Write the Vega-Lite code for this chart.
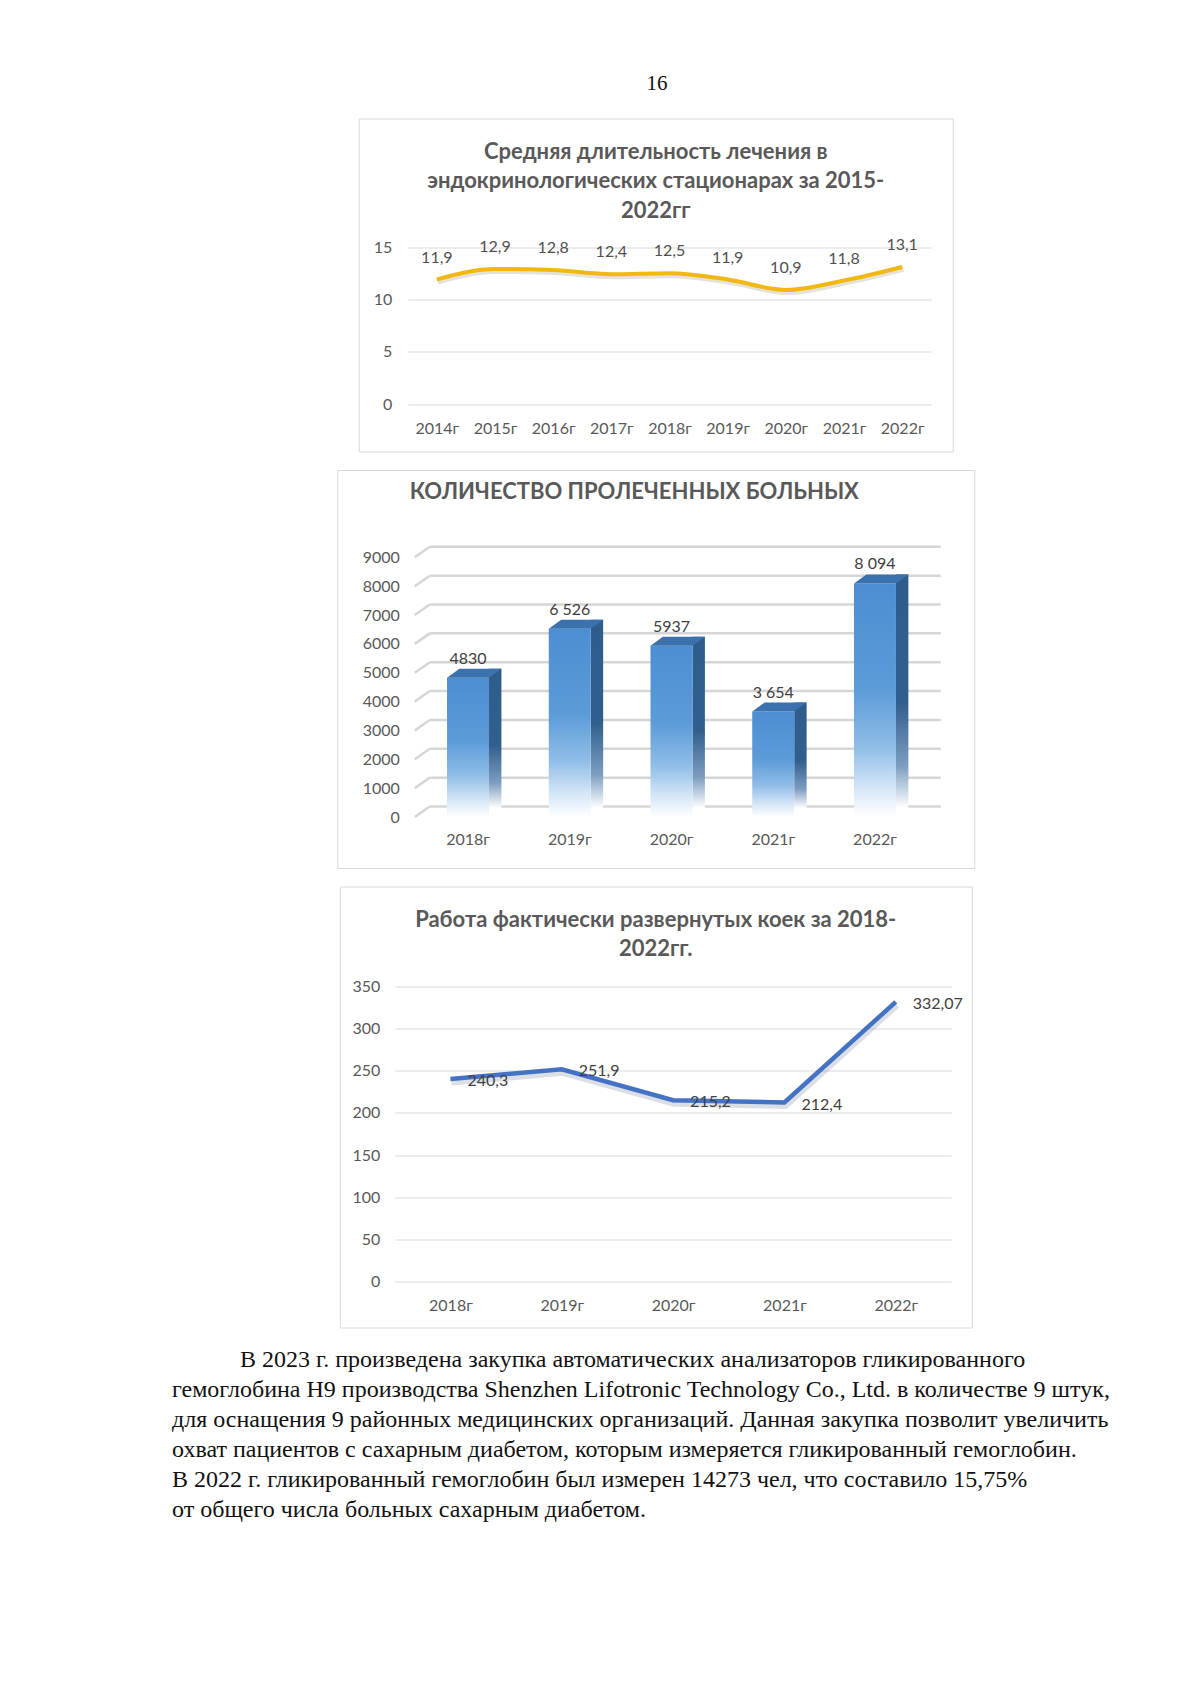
{
  "$schema": "https://vega.github.io/schema/vega-lite/v6.json",
  "background": "white",
  "padding": {"left": 170, "top": 64, "right": 0, "bottom": 0},
  "spacing": 16.5,
  "center": true,
  "config": {
    "view": {"stroke": null},
    "font": "Lato",
    "axis": {"domain": false, "ticks": false, "labelFont": "Lato", "labelColor": "#595959", "labelFontSize": 16}
  },
  "vconcat": [
    {
      "width": 20, "height": 37,
      "data": {"values": [{"page": "16"}]},
      "mark": {"type": "text", "font": "Liberation Serif", "fontSize": 21, "baseline": "middle", "align": "center", "dx": 2.5, "dy": 1, "color": "#111111"},
      "encoding": {"text": {"field": "page"}}
    },
    {
      "width": 594, "height": 333,
      "view": {"stroke": "#D9D9D9"},
      "title": {"text": ["Средняя длительность лечения в", "эндокринологических стационарах за 2015-", "2022гг"], "anchor": "middle", "frame": "group", "offset": -104, "font": "Lato", "fontSize": 22, "fontWeight": "bold", "color": "#595959", "lineHeight": 29.5},
      "data": {"values": [
        {"year": "2014г", "v": 11.9, "label": "11,9"},
        {"year": "2015г", "v": 12.9, "label": "12,9"},
        {"year": "2016г", "v": 12.8, "label": "12,8"},
        {"year": "2017г", "v": 12.4, "label": "12,4"},
        {"year": "2018г", "v": 12.5, "label": "12,5"},
        {"year": "2019г", "v": 11.9, "label": "11,9"},
        {"year": "2020г", "v": 10.9, "label": "10,9"},
        {"year": "2021г", "v": 11.8, "label": "11,8"},
        {"year": "2022г", "v": 13.1, "label": "13,1"}
      ]},
      "encoding": {
        "x": {"field": "year", "type": "ordinal", "sort": null, "scale": {"type": "point", "range": [49, 572.5], "padding": 0.5}, "axis": {"orient": "bottom", "offset": -40, "labelPadding": 17, "labelBaseline": "middle", "labelAngle": 0, "title": null, "grid": false}},
        "y": {"field": "v", "type": "quantitative", "scale": {"domain": [0, 15], "range": [285.8, 128.5], "nice": false, "zero": false}, "axis": {"values": [0, 5, 10, 15], "offset": -49, "labelPadding": 16, "grid": true, "gridColor": "#D9D9D9", "title": null}}
      },
      "layer": [
        {"mark": {"type": "line", "interpolate": "monotone", "color": "#8a7a50", "opacity": 0.22, "strokeWidth": 5, "yOffset": 2.5, "xOffset": 1}},
        {"mark": {"type": "line", "interpolate": "monotone", "color": "#F2B811", "strokeWidth": 4}},
        {"mark": {"type": "text", "dy": -22, "fontSize": 16, "font": "Lato", "color": "#505050"}, "encoding": {"text": {"field": "label"}}}
      ]
    },
    {
      "width": 637, "height": 398,
      "view": {"stroke": "#D9D9D9"},
      "title": {"text": "КОЛИЧЕСТВО ПРОЛЕЧЕННЫХ БОЛЬНЫХ", "anchor": "middle", "frame": "group", "offset": -33.5, "dx": -21.5, "font": "Lato", "fontSize": 22, "fontWeight": "bold", "color": "#595959"},
      "resolve": {"scale": {"x": "independent"}},
      "layer": [
        {
          "data": {"values": [{"v": 0}, {"v": 1000}, {"v": 2000}, {"v": 3000}, {"v": 4000}, {"v": 5000}, {"v": 6000}, {"v": 7000}, {"v": 8000}, {"v": 9000}]},
          "encoding": {
            "y": {"field": "v", "type": "quantitative", "scale": {"domain": [0, 9000], "range": [347, 87.3], "nice": false, "zero": false}, "axis": {"values": [0, 1000, 2000, 3000, 4000, 5000, 6000, 7000, 8000, 9000], "format": "d", "offset": -77, "labelPadding": 15, "grid": false, "title": null}}
          },
          "layer": [
            {
              "mark": {"type": "rule", "color": "#D6D6D6", "strokeWidth": 2.5, "yOffset": -10.5},
              "encoding": {
                "x": {"datum": 0, "type": "quantitative", "scale": {"domain": [0, 1], "range": [92.5, 603.5]}, "axis": null},
                "x2": {"datum": 1}
              }
            },
            {
              "mark": {"type": "rule", "color": "#D6D6D6", "strokeWidth": 2.5, "xOffset": -15, "y2Offset": -10.5},
              "encoding": {
                "x": {"datum": 0, "type": "quantitative", "scale": {"domain": [0, 1], "range": [92.5, 603.5]}, "axis": null},
                "x2": {"datum": 0},
                "y2": {"field": "v"}
              }
            }
          ]
        },
        {
          "data": {"values": [
            {"year": "2018г", "n": 4830, "label": "4830"},
            {"year": "2019г", "n": 6526, "label": "6 526"},
            {"year": "2020г", "n": 5937, "label": "5937"},
            {"year": "2021г", "n": 3654, "label": "3 654"},
            {"year": "2022г", "n": 8094, "label": "8 094"}
          ]},
          "encoding": {
            "x": {"field": "year", "type": "nominal", "sort": null, "scale": {"type": "band", "range": [79.9, 588.6], "paddingInner": 0, "paddingOuter": 0}, "axis": {"orient": "bottom", "offset": -52.4, "labelPadding": 24, "labelBaseline": "middle", "labelAngle": 0, "title": null, "grid": false}},
            "y": {"field": "n", "type": "quantitative"}
          },
          "layer": [
            {"mark": {"type": "bar", "width": 12.4, "xOffset": 27.2, "yOffset": -9, "y2Offset": -9, "stroke": null,
              "fill": {"gradient": "linear", "x1": 0, "y1": 0, "x2": 0, "y2": 1, "stops": [{"offset": 0, "color": "#2E5D8C"}, {"offset": 0.55, "color": "#315F8D"}, {"offset": 0.82, "color": "#7D9DC0"}, {"offset": 1, "color": "#FFFFFF"}]}}},
            {"mark": {"type": "bar", "width": 42, "stroke": null,
              "fill": {"gradient": "linear", "x1": 0, "y1": 0, "x2": 0, "y2": 1, "stops": [{"offset": 0, "color": "#4C8ED2"}, {"offset": 0.45, "color": "#5B9BD8"}, {"offset": 0.7, "color": "#8FBDE7"}, {"offset": 0.88, "color": "#D6E7F7"}, {"offset": 1, "color": "#FFFFFF"}]}}},
            {"mark": {"type": "point", "shape": "M -21 0 L 21 0 L 33.4 -9 L -8.6 -9 Z", "size": 4, "filled": true, "color": "#3B71AC", "opacity": 1, "strokeWidth": 0}},
            {"mark": {"type": "text", "dy": -19, "fontSize": 16, "font": "Lato", "color": "#404040"}, "encoding": {"text": {"field": "label"}}}
          ]
        }
      ]
    },
    {
      "width": 632, "height": 441,
      "view": {"stroke": "#D9D9D9"},
      "title": {"text": ["Работа фактически развернутых коек за 2018-", "2022гг."], "anchor": "middle", "frame": "group", "offset": -75, "font": "Lato", "fontSize": 22, "fontWeight": "bold", "color": "#595959", "lineHeight": 29.1},
      "data": {"values": [
        {"year": "2018г", "v": 240.3, "label": "240,3"},
        {"year": "2019г", "v": 251.9, "label": "251,9"},
        {"year": "2020г", "v": 215.2, "label": "215,2"},
        {"year": "2021г", "v": 212.4, "label": "212,4"},
        {"year": "2022г", "v": 332.07, "label": "332,07"}
      ]},
      "encoding": {
        "x": {"field": "year", "type": "ordinal", "sort": null, "scale": {"type": "point", "range": [55, 611.7], "padding": 0.5}, "axis": {"orient": "bottom", "offset": -46.3, "labelPadding": 24, "labelBaseline": "middle", "labelAngle": 0, "title": null, "grid": false}},
        "y": {"field": "v", "type": "quantitative", "scale": {"domain": [0, 350], "range": [394.7, 100.3], "nice": false, "zero": false}, "axis": {"values": [0, 50, 100, 150, 200, 250, 300, 350], "offset": -55, "labelPadding": 15, "grid": true, "gridColor": "#D9D9D9", "title": null}}
      },
      "layer": [
        {"mark": {"type": "line", "color": "#6f7f99", "opacity": 0.25, "strokeWidth": 7, "yOffset": 3, "xOffset": 1}},
        {"mark": {"type": "line", "color": "#4472C4", "strokeWidth": 4.5}},
        {"mark": {"type": "text", "align": "left", "dx": 17, "dy": 2, "fontSize": 16, "font": "Lato", "color": "#404040"}, "encoding": {"text": {"field": "label"}}}
      ]
    },
    {
      "width": 972, "height": 180.5,
      "data": {"values": [
        {"line": 1, "text": "В 2023 г. произведена закупка автоматических анализаторов гликированного"},
        {"line": 2, "text": "гемоглобина H9 производства Shenzhen Lifotronic Technology Co., Ltd. в количестве 9 штук,"},
        {"line": 3, "text": "для оснащения 9 районных медицинских организаций. Данная закупка позволит увеличить"},
        {"line": 4, "text": "охват пациентов с сахарным диабетом, которым измеряется гликированный гемоглобин."},
        {"line": 5, "text": "В 2022 г. гликированный гемоглобин был измерен 14273 чел, что составило 15,75%"},
        {"line": 6, "text": "от общего числа больных сахарным диабетом."}
      ]},
      "encoding": {
        "y": {"field": "line", "type": "ordinal", "axis": null, "scale": {"padding": 0.5}},
        "x": {"value": 0},
        "text": {"field": "text"}
      },
      "layer": [
        {
          "transform": [{"filter": "datum.line == 1"}],
          "mark": {"type": "text", "align": "left", "baseline": "middle", "dx": 70, "font": "Liberation Serif", "fontSize": 24, "color": "#111111"}
        },
        {
          "transform": [{"filter": "datum.line != 1"}],
          "mark": {"type": "text", "align": "left", "baseline": "middle", "dx": 2, "font": "Liberation Serif", "fontSize": 24, "color": "#111111"}
        }
      ]
    }
  ]
}
